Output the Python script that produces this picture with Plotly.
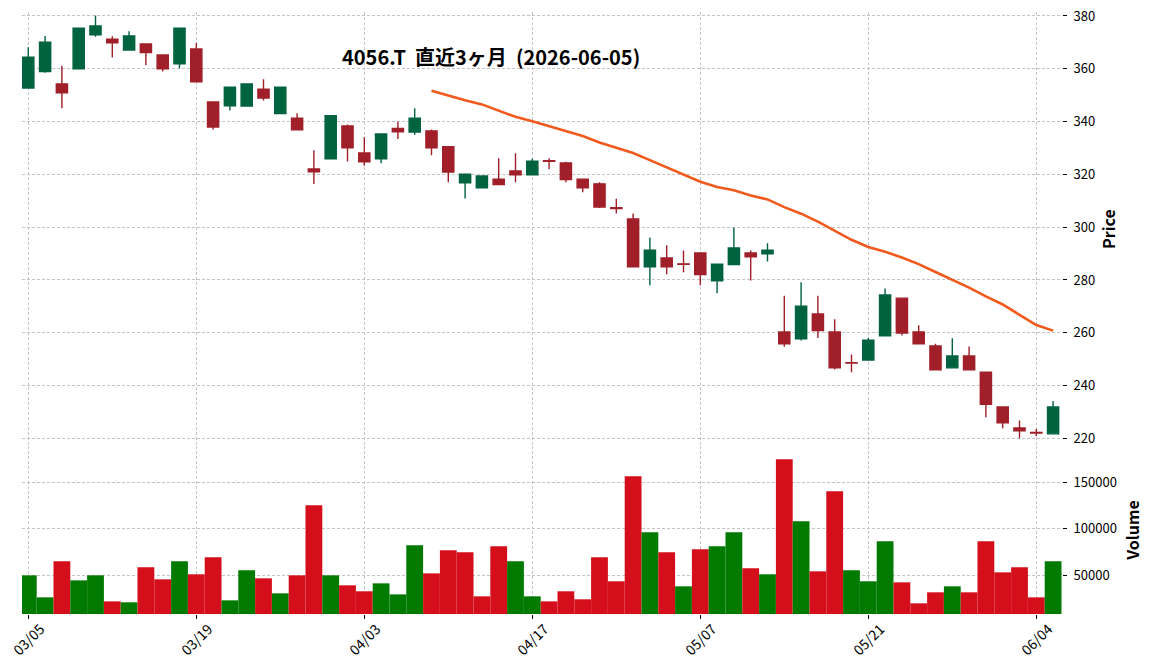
import plotly.graph_objects as go

# ---------------- data ----------------
dates = ["03/05", "03/06", "03/09", "03/10", "03/11", "03/12", "03/13", "03/16", "03/17", "03/18",
         "03/19", "03/23", "03/24", "03/25", "03/26", "03/27", "03/30", "03/31", "04/01", "04/02",
         "04/03", "04/06", "04/07", "04/08", "04/09", "04/10", "04/13", "04/14", "04/15", "04/16",
         "04/17", "04/20", "04/21", "04/22", "04/23", "04/24", "04/27", "04/28", "04/30", "05/01",
         "05/07", "05/08", "05/11", "05/12", "05/13", "05/14", "05/15", "05/18", "05/19", "05/20",
         "05/21", "05/22", "05/25", "05/26", "05/27", "05/28", "05/29", "06/01", "06/02", "06/03",
         "06/04", "06/05"]

opens = [352.7, 358.9, 354.2, 360.0, 372.9, 371.2, 367.1, 369.4, 365.2, 361.9,
         367.5, 347.4, 346.0, 345.9, 352.3, 343.0, 341.3, 322.0, 325.9, 338.3,
         328.1, 325.9, 337.4, 336.0, 336.4, 330.5, 316.8, 314.9, 318.2, 321.3,
         319.8, 325.2, 324.3, 318.2, 316.4, 307.4, 303.1, 285.0, 288.3, 286.1,
         290.2, 279.7, 285.8, 290.2, 289.9, 260.3, 257.7, 267.1, 260.3, 248.7,
         249.7, 258.8, 273.1, 260.3, 255.0, 246.7, 251.2, 245.1, 231.9, 223.9,
         222.2, 221.7]

highs = [368.1, 372.4, 361.1, 375.5, 380.2, 372.3, 374.2, 369.5, 365.3, 375.5,
         369.8, 347.5, 353.1, 354.3, 356.0, 353.1, 343.1, 329.1, 342.3, 338.9,
         334.1, 335.4, 339.9, 345.0, 337.0, 330.6, 320.2, 319.5, 326.1, 328.0,
         325.9, 326.1, 324.8, 318.3, 317.0, 310.8, 305.2, 296.1, 293.1, 291.2,
         290.3, 286.1, 299.9, 291.2, 293.9, 274.0, 279.1, 274.0, 265.1, 251.8,
         258.0, 276.8, 273.2, 262.8, 255.8, 257.9, 254.8, 245.2, 232.0, 226.8,
         223.5, 234.1]

lows = [352.5, 358.5, 345.0, 360.0, 372.1, 364.3, 367.0, 361.3, 359.0, 360.2,
        355.0, 337.0, 344.2, 345.8, 348.0, 342.9, 336.8, 316.3, 325.8, 324.9,
        323.3, 324.2, 333.4, 335.0, 327.2, 317.0, 310.9, 314.8, 316.0, 317.0,
        319.7, 321.9, 317.0, 313.2, 307.3, 305.2, 284.9, 278.0, 282.2, 282.9,
        278.0, 275.0, 285.7, 279.8, 287.0, 254.7, 257.1, 258.0, 246.1, 245.0,
        249.6, 258.7, 259.0, 255.7, 245.9, 246.6, 245.9, 228.0, 223.8, 220.0,
        220.9, 221.6]

closes = [364.4, 370.1, 350.9, 375.4, 376.2, 369.8, 372.4, 366.1, 360.0, 375.4,
          355.1, 337.9, 353.0, 354.2, 348.9, 353.0, 336.9, 321.0, 342.2, 330.1,
          324.8, 335.3, 336.1, 341.3, 330.1, 320.9, 320.1, 319.4, 316.1, 319.8,
          325.0, 324.9, 318.0, 314.9, 307.6, 307.0, 285.0, 291.3, 285.0, 285.9,
          282.0, 286.0, 292.1, 288.8, 291.3, 255.8, 270.1, 260.8, 246.7, 248.5,
          257.2, 274.3, 259.9, 255.8, 246.0, 251.2, 246.0, 232.9, 225.9, 222.9,
          222.0, 231.9]

volumes = [50000, 26400, 65000, 44600, 50000, 22100, 21100, 58600, 45700, 65000,
           51100, 69300, 23200, 55400, 46800, 30700, 50000, 125000, 50000, 39300,
           32900, 41400, 29600, 82200, 52100, 76800, 74700, 27500, 81100, 65000,
           27500, 22100, 32900, 24300, 69300, 43600, 156100, 96100, 74700, 38200,
           77900, 81100, 96100, 57500, 51100, 174300, 107900, 54300, 140000, 55400,
           43600, 86400, 42500, 20000, 31800, 38200, 31800, 86400, 53200, 58600,
           26400, 65000]

ma25 = [None] * 24 + [351.7, 349.8, 348.1, 346.5, 344.1, 341.8, 340.1, 338.2, 336.4, 334.5,
                      332.1, 330.2, 328.1, 325.4, 322.7, 320.1, 317.2, 315.2, 314.0, 312.0,
                      310.5, 307.6, 305.1, 302.1, 298.6, 295.2, 292.5, 290.7, 288.5, 286.0,
                      283.0, 280.2, 277.1, 273.8, 270.7, 266.8, 262.9, 260.8]

price_ticks = [220, 240, 260, 280, 300, 320, 340, 360, 380]
volume_ticks = [50000, 100000, 150000]
title_text = "4056.T  直近3ヶ月  (2026-06-05)"

# ---------------- styling ----------------
FONT = "Noto Sans CJK JP"
UP = "#00633f"
DOWN = "#a01f29"
VUP = "#007a00"
VDOWN = "#d40f1b"
MA_COLOR = "#f25a1d"
GRID = "#c4c4c4"

W, H = 1152, 671
ML, MR, MT, MB = 22, 90, 12, 57
PLOT_H = H - MT - MB
PLOT_W = W - ML - MR

idx = list(range(len(dates)))
vcolors = [VUP if (i == 0 or closes[i] >= closes[i - 1]) else VDOWN for i in idx]
tick_idx = list(range(0, len(dates), 10))

fig = go.Figure()

fig.add_trace(go.Bar(
    x=idx, y=volumes, width=1.0,
    marker=dict(color=vcolors, line=dict(width=0)),
    xaxis="x2", yaxis="y2", showlegend=False, hoverinfo="skip",
))

fig.add_trace(go.Candlestick(
    x=idx, open=opens, high=highs, low=lows, close=closes,
    increasing=dict(line=dict(color=UP, width=1.4), fillcolor=UP),
    decreasing=dict(line=dict(color=DOWN, width=1.4), fillcolor=DOWN),
    whiskerwidth=0, xaxis="x", yaxis="y", showlegend=False, hoverinfo="skip",
))

fig.add_trace(go.Scatter(
    x=idx, y=ma25, mode="lines",
    line=dict(color=MA_COLOR, width=2.6),
    xaxis="x", yaxis="y", showlegend=False, hoverinfo="skip",
))

split = (614 - 446) / PLOT_H

common_x = dict(
    range=[-0.375, 61.53], showgrid=True, gridcolor=GRID, gridwidth=0.8,
    griddash="3px,2px", zeroline=False, showline=False, automargin=False,
    tickvals=tick_idx, showticklabels=False,
)

common_y = dict(
    side="right", ticks="outside", ticklen=4, tickwidth=1, tickcolor="black",
    showgrid=True, gridcolor=GRID, gridwidth=0.8, griddash="3px,2px",
    zeroline=False, showline=False, automargin=False, ticklabelstandoff=4,
    tickfont=dict(family=FONT, size=13, color="black"),
)

# x tick labels, centred under each tick and rotated like the reference
label_y = (614 - 639) / PLOT_H
annotations = [dict(
    text=dates[i], xref="x2", yref="paper", x=i, y=label_y,
    xanchor="center", yanchor="middle", textangle=-45, showarrow=False,
    font=dict(family=FONT, size=14, color="black"),
) for i in tick_idx]

annotations.append(dict(
    text=title_text, xref="paper", yref="paper",
    x=(491 - ML) / PLOT_W, y=(614 - 57) / PLOT_H,
    xanchor="center", yanchor="middle", showarrow=False,
    font=dict(family=FONT, size=20, color="black", weight="bold"),
))

fig.update_layout(
    width=W, height=H, autosize=False,
    margin=dict(l=ML, r=MR, t=MT, b=MB, autoexpand=False),
    paper_bgcolor="white", plot_bgcolor="white",
    font=dict(family=FONT, size=13, color="black"),
    boxgap=0.05, showlegend=False, hovermode=False,
    xaxis=dict(common_x, domain=[0, 1], anchor="y", ticks="",
               rangeslider=dict(visible=False)),
    xaxis2=dict(common_x, domain=[0, 1], anchor="y2", matches="x",
                ticks="outside", ticklen=4, tickwidth=1, tickcolor="black"),
    yaxis=dict(common_y, domain=[split, 1], range=[217.1, 381.5], anchor="x",
               tickvals=price_ticks,
               title=dict(text="Price", standoff=9,
                          font=dict(family=FONT, size=16, color="black", weight="bold"))),
    yaxis2=dict(common_y, domain=[0, split], range=[8560, 188600], anchor="x2",
                tickvals=volume_ticks, tickformat="d",
                title=dict(text="Volume", standoff=11,
                           font=dict(family=FONT, size=16, color="black", weight="bold"))),
    annotations=annotations,
)

fig.write_html("out.html")
